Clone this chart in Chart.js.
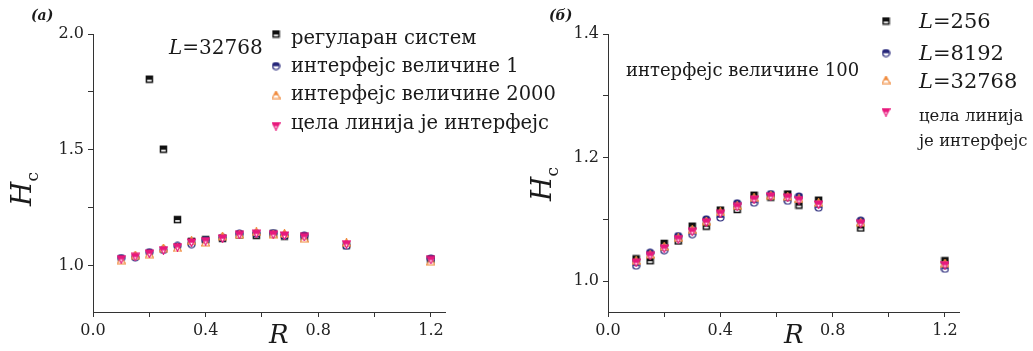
<!DOCTYPE html>
<html><head><meta charset="utf-8">
<script src="https://cdn.jsdelivr.net/npm/chart.js@4.4.0/dist/chart.umd.min.js"></script>
<style>
html,body{margin:0;padding:0;background:#fff;width:1033px;height:351px;overflow:hidden}
canvas{position:absolute;top:0}
</style></head><body>
<canvas id="c1" width="600" height="351" style="left:0;width:600px;height:351px"></canvas>
<canvas id="c2" width="517" height="351" style="left:516px;width:517px;height:351px"></canvas>
<script>
// ---------- data ----------
const R = [0.1, 0.15, 0.2, 0.25, 0.3, 0.35, 0.4, 0.46, 0.52, 0.58, 0.64, 0.68, 0.75, 0.9, 1.2];

// panel (a), L = 32768
const regularA = [null, null, 1.805, 1.503, 1.199, 1.105, 1.112, 1.118, 1.133, 1.131, 1.137, 1.128, 1.124, 1.089, 1.028];
const iface1A  = [1.033, 1.036, 1.058, 1.068, 1.085, 1.093, 1.110, 1.120, 1.138, 1.139, 1.140, 1.130, 1.130, 1.086, 1.031];
const iface2000A = [1.024, 1.046, 1.050, 1.076, 1.077, 1.107, 1.100, 1.127, 1.135, 1.146, 1.136, 1.139, 1.117, 1.099, 1.019];
const wholeA   = [1.028, 1.038, 1.052, 1.067, 1.080, 1.100, 1.106, 1.117, 1.133, 1.138, 1.134, 1.130, 1.124, 1.093, 1.025];

// panel (б), interface size 100
const L256B   = [1.036, 1.033, 1.061, 1.065, 1.089, 1.089, 1.115, 1.116, 1.139, 1.136, 1.141, 1.123, 1.131, 1.086, 1.033];
const L8192B  = [1.025, 1.046, 1.050, 1.073, 1.076, 1.100, 1.103, 1.126, 1.127, 1.141, 1.130, 1.137, 1.119, 1.098, 1.020];
const L32768B = [1.033, 1.043, 1.056, 1.070, 1.083, 1.097, 1.112, 1.122, 1.135, 1.139, 1.137, 1.133, 1.127, 1.095, 1.029];
const wholeB  = [1.030, 1.041, 1.053, 1.068, 1.080, 1.095, 1.109, 1.120, 1.132, 1.137, 1.135, 1.131, 1.124, 1.093, 1.026];

// ticks
const xTicks = [0, 0.2, 0.4, 0.6, 0.8, 1.0, 1.2];
const xTickLabels = ['0.0', '', '0.4', '', '0.8', '', '1.2'];
const yTicksA = [1.0, 1.25, 1.5, 1.75, 2.0];
const yTickLabelsA = ['1.0', '', '1.5', '', '2.0'];
const yTicksB = [1.0, 1.1, 1.2, 1.3, 1.4];
const yTickLabelsB = ['1.0', '', '1.2', '', '1.4'];

const namesA = ['регуларан систем', 'интерфејс величине 1', 'интерфејс величине 2000', 'цела линија је интерфејс'];

// ---------- markers ----------
const COL = {sq: '#111111', ci: '#262679', up: '#f08a3c', dn: '#e8197d'};
function marker(shape, color) {
  const s = 9, c = document.createElement('canvas');
  c.width = s; c.height = s;
  const g = c.getContext('2d');
  const path = () => {
    g.beginPath();
    if (shape === 'sq') g.rect(1.5, 1.5, 6, 6);
    else if (shape === 'ci') g.arc(4.5, 4.5, 3.5, 0, Math.PI * 2);
    else if (shape === 'up') { g.moveTo(4.5, 0.6); g.lineTo(8.5, 8.0); g.lineTo(0.5, 8.0); g.closePath(); }
    else { g.moveTo(0.5, 1.0); g.lineTo(8.5, 1.0); g.lineTo(4.5, 8.4); g.closePath(); }
  };
  path(); g.fillStyle = '#fff'; g.fill();
  g.save(); g.beginPath(); g.rect(0, 0, s, shape === 'sq' ? 5 : 4.8); g.clip();
  path(); g.fillStyle = color; g.fill(); g.restore();
  path(); g.strokeStyle = color; g.lineWidth = shape === 'sq' ? 1.5 : 1.2; g.stroke();
  return c;
}
const MK = {sq: marker('sq', COL.sq), ci: marker('ci', COL.ci), up: marker('up', COL.up), dn: marker('dn', COL.dn)};

function pts(xs, ys) { return xs.map((x, i) => ({x, y: ys[i]})).filter(p => p.y !== null); }
function ds(label, ys, key, order) {
  return {label, data: pts(R, ys), pointStyle: MK[key], order, showLine: false,
          pointRadius: 4, pointHoverRadius: 4, backgroundColor: COL[key], borderColor: COL[key]};
}

// ---------- text helpers ----------
const SERIF = '"DejaVu Serif", "Liberation Serif", serif';
function runs(ctx, x, y, parts) {
  ctx.textBaseline = 'alphabetic'; ctx.textAlign = 'left'; ctx.fillStyle = '#1a1a1a';
  for (const [t, font, dy] of parts) {
    ctx.font = font; ctx.fillText(t, x, y + (dy || 0)); x += ctx.measureText(t).width;
  }
}
function hc(ctx, x, y) {
  ctx.save(); ctx.translate(x, y); ctx.rotate(-Math.PI / 2);
  runs(ctx, 0, 0, [['H', 'italic 28px ' + SERIF], ['c', '17px ' + SERIF, 7]]);
  ctx.restore();
}

function scales(yMin, yMax, yT, yL) {
  const common = {
    type: 'linear',
    grid: {drawOnChartArea: false, color: '#333', tickLength: 5, tickWidth: 1},
    border: {display: true, color: '#333', width: 1},
    ticks: {font: {family: SERIF, size: 16}, color: '#222', padding: 4}
  };
  return {
    x: {...common, position: 'bottom', min: 0, max: 1.25,
        afterBuildTicks: s => { s.ticks = xTicks.map(v => ({value: v})); },
        afterFit: s => { s.height = 39; },
        ticks: {...common.ticks, maxRotation: 0, autoSkip: false, callback: (v, i) => xTickLabels[i]}},
    y: {...common, position: 'left', min: yMin, max: yMax,
        afterBuildTicks: s => { s.ticks = yT.map(v => ({value: v})); },
        afterFit: s => { s.width = 92; },
        ticks: {...common.ticks, autoSkip: false, callback: (v, i) => yL[i]}}
  };
}
const baseOpts = {responsive: false, animation: false, devicePixelRatio: 1,
  plugins: {legend: {display: false}, tooltip: {enabled: false}}, events: []};

// ---------- chart (a) ----------
new Chart(document.getElementById('c1'), {
  type: 'scatter',
  data: {datasets: [
    ds(namesA[0], regularA, 'sq', 3),
    ds(namesA[1], iface1A, 'ci', 2),
    ds(namesA[2], iface2000A, 'up', 1),
    ds(namesA[3], wholeA, 'dn', 0)
  ]},
  options: {...baseOpts, layout: {padding: {left: 1, top: 34, right: 155, bottom: 0}},
    scales: scales(0.8, 2.0, yTicksA, yTickLabelsA)},
  plugins: [{id: 'annA', afterDraw(chart) {
    const ctx = chart.ctx;
    runs(ctx, 31, 20, [['(a)', 'italic bold 14px ' + SERIF]]);
    runs(ctx, 169, 54, [['L', 'italic 20px ' + SERIF], ['=32768', '20px ' + SERIF]]);
    const keys = ['sq', 'ci', 'up', 'dn'], ys = [34, 66, 95, 126], ty = [44, 72, 100, 129];
    keys.forEach((k, i) => {
      ctx.drawImage(MK[k], 276 - 4.5, ys[i] - 4.5);
      runs(ctx, 291, ty[i], [[namesA[i], '19.5px ' + SERIF]]);
    });
    hc(ctx, 31, 206);
    runs(ctx, 269, 343, [['R', 'italic 26px ' + SERIF]]);
  }}]
});

// ---------- chart (б) ----------
new Chart(document.getElementById('c2'), {
  type: 'scatter',
  data: {datasets: [
    ds('L=256', L256B, 'sq', 3),
    ds('L=8192', L8192B, 'ci', 2),
    ds('L=32768', L32768B, 'up', 1),
    ds('цела линија је интерфејс', wholeB, 'dn', 0)
  ]},
  options: {...baseOpts, layout: {padding: {left: 0, top: 34, right: 74, bottom: 0}},
    scales: scales(0.95, 1.4, yTicksB, yTickLabelsB)},
  plugins: [{id: 'annB', afterDraw(chart) {
    const ctx = chart.ctx;
    runs(ctx, 33, 20, [['(б)', 'italic bold 14px ' + SERIF]]);
    runs(ctx, 110, 76, [['интерфејс величине 100', '18px ' + SERIF]]);
    const keys = ['sq', 'ci', 'up'], lab = ['256', '8192', '32768'], ys = [21, 53, 80], ty = [28, 60, 88];
    keys.forEach((k, i) => {
      ctx.drawImage(MK[k], 370 - 4.5, ys[i] - 4.5);
      runs(ctx, 403, ty[i], [['L', 'italic 21px ' + SERIF], ['=' + lab[i], '21px ' + SERIF]]);
    });
    ctx.drawImage(MK.dn, 370 - 4.5, 112 - 4.5);
    runs(ctx, 403, 121, [['цела линија', '16.5px ' + SERIF]]);
    runs(ctx, 403, 146, [['је интерфејс', '16.5px ' + SERIF]]);
    hc(ctx, 35, 201);
    runs(ctx, 268, 343, [['R', 'italic 26px ' + SERIF]]);
  }}]
});
</script>
</body></html>
